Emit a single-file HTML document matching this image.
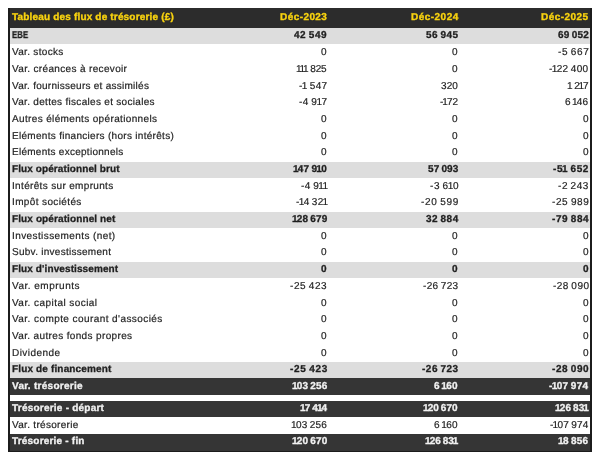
<!DOCTYPE html>
<html><head><meta charset="utf-8"><style>
*{margin:0;padding:0;box-sizing:border-box}
html,body{width:600px;height:459px;background:#fff;overflow:hidden}
body{position:relative;text-rendering:geometricPrecision;font-family:"Liberation Sans",sans-serif;font-size:10.0px;color:#1f1f1f}
.r{position:absolute;left:8px;width:584px}
.t{position:absolute;line-height:0;white-space:nowrap;-webkit-text-stroke:0.2px #1f1f1f}
.b{font-weight:bold;font-size:10.0px;-webkit-text-stroke:0.3px #1f1f1f}
.g{background:#dddddd}
.d{background:#353535}
.dt{color:#f2f2f2;-webkit-text-stroke:0.3px #f2f2f2}
.hd{position:absolute;left:8px;top:8px;width:584px;height:20px;background:#2c2c2c}
.ht{position:absolute;line-height:0;white-space:nowrap;color:#f9d30f;font-weight:bold;font-size:10.0px;-webkit-text-stroke:0.35px #f9d30f;top:18px}
.t,.ht{will-change:transform}
.sp{font-style:normal;margin-right:-0.8px}
.o{font-style:normal;margin-left:-1.0px;margin-right:-0.9px}
.bd{position:absolute;background:#1c1c1c}
</style></head><body>
<div class="hd"></div><span class="ht" style="left:11.80px;letter-spacing:0.174px">Tableau des flux de trésorerie (£)</span><span class="ht" style="right:272.572px;letter-spacing:0.428px">Déc-2023</span><span class="ht" style="right:141.527px;letter-spacing:0.473px">Déc-2024</span><span class="ht" style="right:11.050px;letter-spacing:0.450px">Déc-2025</span>
<div class="r g" style="top:28px;height:16px"></div><span class="t b gt" style="left:11.80px;top:36.000px;letter-spacing:0.000px;transform:scaleX(0.78);transform-origin:0 0">EBE</span><span class="t b gt" style="right:272.448px;top:36.000px;letter-spacing:0.552px">42<i class="sp"> </i>549</span><span class="t b gt" style="right:141.541px;top:36.000px;letter-spacing:0.459px">56<i class="sp"> </i>945</span><span class="t b gt" style="right:11.294px;top:36.000px;letter-spacing:0.206px">69<i class="sp"> </i>052</span><div class="r w" style="top:45px;height:16px"></div><span class="t  wt" style="left:11.80px;top:53.000px;letter-spacing:0.310px">Var. stocks</span><span class="t  wt" style="right:272.700px;top:53.000px;letter-spacing:0.300px">0</span><span class="t  wt" style="right:141.700px;top:53.000px;letter-spacing:0.300px">0</span><span class="t  wt" style="right:10.852px;top:53.000px;letter-spacing:0.648px">-5<i class="sp"> </i>667</span><div class="r w" style="top:61px;height:17px"></div><span class="t  wt" style="left:11.80px;top:70.000px;letter-spacing:0.341px">Var. créances à recevoir</span><span class="t  wt" style="right:273.150px;top:70.000px;letter-spacing:-0.150px"><i class="o">1</i><i class="o">1</i><i class="o">1</i> 825</span><span class="t  wt" style="right:141.700px;top:70.000px;letter-spacing:0.300px">0</span><span class="t  wt" style="right:11.175px;top:70.000px;letter-spacing:0.325px">-<i class="o">1</i>22<i class="sp"> </i>400</span><div class="r w" style="top:78px;height:17px"></div><span class="t  wt" style="left:11.80px;top:87.000px;letter-spacing:0.262px">Var. fournisseurs et assimilés</span><span class="t  wt" style="right:272.672px;top:87.000px;letter-spacing:0.328px">-<i class="o">1</i> 547</span><span class="t  wt" style="right:141.912px;top:87.000px;letter-spacing:0.088px">320</span><span class="t  wt" style="right:11.650px;top:87.000px;letter-spacing:-0.150px"><i class="o">1</i> 2<i class="o">1</i>7</span><div class="r w" style="top:95px;height:16px"></div><span class="t  wt" style="left:11.80px;top:103.000px;letter-spacing:0.300px">Var. dettes fiscales et sociales</span><span class="t  wt" style="right:272.512px;top:103.000px;letter-spacing:0.488px">-4<i class="sp"> </i>9<i class="o">1</i>7</span><span class="t  wt" style="right:141.988px;top:103.000px;letter-spacing:0.012px">-<i class="o">1</i>72</span><span class="t  wt" style="right:11.322px;top:103.000px;letter-spacing:0.178px">6<i class="sp"> </i><i class="o">1</i>46</span><div class="r w" style="top:111px;height:17px"></div><span class="t  wt" style="left:11.80px;top:120.000px;letter-spacing:0.354px">Autres éléments opérationnels</span><span class="t  wt" style="right:272.700px;top:120.000px;letter-spacing:0.300px">0</span><span class="t  wt" style="right:141.700px;top:120.000px;letter-spacing:0.300px">0</span><span class="t  wt" style="right:11.200px;top:120.000px;letter-spacing:0.300px">0</span><div class="r w" style="top:128px;height:17px"></div><span class="t  wt" style="left:11.80px;top:137.000px;letter-spacing:0.296px">Eléments financiers (hors intérêts)</span><span class="t  wt" style="right:272.700px;top:137.000px;letter-spacing:0.300px">0</span><span class="t  wt" style="right:141.700px;top:137.000px;letter-spacing:0.300px">0</span><span class="t  wt" style="right:11.200px;top:137.000px;letter-spacing:0.300px">0</span><div class="r w" style="top:145px;height:17px"></div><span class="t  wt" style="left:11.80px;top:153.000px;letter-spacing:0.266px">Eléments exceptionnels</span><span class="t  wt" style="right:272.700px;top:153.000px;letter-spacing:0.300px">0</span><span class="t  wt" style="right:141.700px;top:153.000px;letter-spacing:0.300px">0</span><span class="t  wt" style="right:11.200px;top:153.000px;letter-spacing:0.300px">0</span><div class="r g" style="top:162px;height:16px"></div><span class="t b gt" style="left:11.80px;top:170.000px;letter-spacing:0.092px">Flux opérationnel brut</span><span class="t b gt" style="right:272.821px;top:170.000px;letter-spacing:0.179px"><i class="o">1</i>47<i class="sp"> </i>9<i class="o">1</i>0</span><span class="t b gt" style="right:141.893px;top:170.000px;letter-spacing:0.107px">57<i class="sp"> </i>093</span><span class="t b gt" style="right:10.944px;top:170.000px;letter-spacing:0.556px">-5<i class="o">1</i> 652</span><div class="r w" style="top:178px;height:17px"></div><span class="t  wt" style="left:11.80px;top:187.000px;letter-spacing:0.337px">Intérêts sur emprunts</span><span class="t  wt" style="right:272.544px;top:187.000px;letter-spacing:0.456px">-4<i class="sp"> </i>9<i class="o">1</i><i class="o">1</i></span><span class="t  wt" style="right:141.448px;top:187.000px;letter-spacing:0.552px">-3<i class="sp"> </i>6<i class="o">1</i>0</span><span class="t  wt" style="right:10.948px;top:187.000px;letter-spacing:0.552px">-2<i class="sp"> </i>243</span><div class="r w" style="top:195px;height:17px"></div><span class="t  wt" style="left:11.80px;top:203.000px;letter-spacing:0.376px">Impôt sociétés</span><span class="t  wt" style="right:272.688px;top:203.000px;letter-spacing:0.312px">-<i class="o">1</i>4<i class="sp"> </i>32<i class="o">1</i></span><span class="t  wt" style="right:141.288px;top:203.000px;letter-spacing:0.712px">-20<i class="sp"> </i>599</span><span class="t  wt" style="right:10.895px;top:203.000px;letter-spacing:0.605px">-25<i class="sp"> </i>989</span><div class="r g" style="top:212px;height:16px"></div><span class="t b gt" style="left:11.80px;top:220.000px;letter-spacing:0.111px">Flux opérationnel net</span><span class="t b gt" style="right:272.874px;top:220.000px;letter-spacing:0.126px"><i class="o">1</i>28<i class="sp"> </i>679</span><span class="t b gt" style="right:141.522px;top:220.000px;letter-spacing:0.478px">32<i class="sp"> </i>884</span><span class="t b gt" style="right:10.917px;top:220.000px;letter-spacing:0.583px">-79<i class="sp"> </i>884</span><div class="r w" style="top:228px;height:17px"></div><span class="t  wt" style="left:11.80px;top:237.000px;letter-spacing:0.407px">Investissements (net)</span><span class="t  wt" style="right:272.700px;top:237.000px;letter-spacing:0.300px">0</span><span class="t  wt" style="right:141.700px;top:237.000px;letter-spacing:0.300px">0</span><span class="t  wt" style="right:11.200px;top:237.000px;letter-spacing:0.300px">0</span><div class="r w" style="top:245px;height:17px"></div><span class="t  wt" style="left:11.80px;top:253.000px;letter-spacing:0.272px">Subv. investissement</span><span class="t  wt" style="right:272.700px;top:253.000px;letter-spacing:0.300px">0</span><span class="t  wt" style="right:141.700px;top:253.000px;letter-spacing:0.300px">0</span><span class="t  wt" style="right:11.200px;top:253.000px;letter-spacing:0.300px">0</span><div class="r g" style="top:262px;height:16px"></div><span class="t b gt" style="left:11.80px;top:270.000px;letter-spacing:0.104px">Flux d'investissement</span><span class="t b gt" style="right:272.700px;top:270.000px;letter-spacing:0.300px">0</span><span class="t b gt" style="right:141.700px;top:270.000px;letter-spacing:0.300px">0</span><span class="t b gt" style="right:11.200px;top:270.000px;letter-spacing:0.300px">0</span><div class="r w" style="top:278px;height:17px"></div><span class="t  wt" style="left:11.80px;top:287.000px;letter-spacing:0.498px">Var. emprunts</span><span class="t  wt" style="right:272.421px;top:287.000px;letter-spacing:0.579px">-25<i class="sp"> </i>423</span><span class="t  wt" style="right:141.661px;top:287.000px;letter-spacing:0.340px">-26<i class="sp"> </i>723</span><span class="t  wt" style="right:11.027px;top:287.000px;letter-spacing:0.473px">-28<i class="sp"> </i>090</span><div class="r w" style="top:295px;height:17px"></div><span class="t  wt" style="left:11.80px;top:304.000px;letter-spacing:0.445px">Var. capital social</span><span class="t  wt" style="right:272.700px;top:304.000px;letter-spacing:0.300px">0</span><span class="t  wt" style="right:141.700px;top:304.000px;letter-spacing:0.300px">0</span><span class="t  wt" style="right:11.200px;top:304.000px;letter-spacing:0.300px">0</span><div class="r w" style="top:312px;height:16px"></div><span class="t  wt" style="left:11.80px;top:320.000px;letter-spacing:0.428px">Var. compte courant d'associés</span><span class="t  wt" style="right:272.700px;top:320.000px;letter-spacing:0.300px">0</span><span class="t  wt" style="right:141.700px;top:320.000px;letter-spacing:0.300px">0</span><span class="t  wt" style="right:11.200px;top:320.000px;letter-spacing:0.300px">0</span><div class="r w" style="top:328px;height:17px"></div><span class="t  wt" style="left:11.80px;top:337.000px;letter-spacing:0.355px">Var. autres fonds propres</span><span class="t  wt" style="right:272.700px;top:337.000px;letter-spacing:0.300px">0</span><span class="t  wt" style="right:141.700px;top:337.000px;letter-spacing:0.300px">0</span><span class="t  wt" style="right:11.200px;top:337.000px;letter-spacing:0.300px">0</span><div class="r w" style="top:345px;height:17px"></div><span class="t  wt" style="left:11.80px;top:354.000px;letter-spacing:0.445px">Dividende</span><span class="t  wt" style="right:272.700px;top:354.000px;letter-spacing:0.300px">0</span><span class="t  wt" style="right:141.700px;top:354.000px;letter-spacing:0.300px">0</span><span class="t  wt" style="right:11.200px;top:354.000px;letter-spacing:0.300px">0</span><div class="r g" style="top:362px;height:16px"></div><span class="t b gt" style="left:11.80px;top:370.000px;letter-spacing:0.148px">Flux de financement</span><span class="t b gt" style="right:272.310px;top:370.000px;letter-spacing:0.690px">-25<i class="sp"> </i>423</span><span class="t b gt" style="right:141.497px;top:370.000px;letter-spacing:0.503px">-26<i class="sp"> </i>723</span><span class="t b gt" style="right:10.917px;top:370.000px;letter-spacing:0.583px">-28<i class="sp"> </i>090</span><div class="r d" style="top:378px;height:17px"></div><span class="t b dt" style="left:11.80px;top:387.000px;letter-spacing:0.282px">Var. trésorerie</span><span class="t b dt" style="right:272.880px;top:387.000px;letter-spacing:0.120px"><i class="o">1</i>03<i class="sp"> </i>256</span><span class="t b dt" style="right:141.678px;top:387.000px;letter-spacing:0.322px">6<i class="sp"> </i><i class="o">1</i>60</span><span class="t b dt" style="right:11.164px;top:387.000px;letter-spacing:0.336px">-<i class="o">1</i>07<i class="sp"> </i>974</span><div class="r d" style="top:401px;height:16px"></div><span class="t b dt" style="left:11.80px;top:409.000px;letter-spacing:0.230px">Trésorerie - départ</span><span class="t b dt" style="right:272.968px;top:409.000px;letter-spacing:0.032px"><i class="o">1</i>7<i class="sp"> </i>4<i class="o">1</i>4</span><span class="t b dt" style="right:141.986px;top:409.000px;letter-spacing:0.014px"><i class="o">1</i>20<i class="sp"> </i>670</span><span class="t b dt" style="right:11.433px;top:409.000px;letter-spacing:0.067px"><i class="o">1</i>26<i class="sp"> </i>83<i class="o">1</i></span><div class="r w" style="top:417px;height:17px"></div><span class="t  wt" style="left:11.80px;top:426.000px;letter-spacing:0.302px">Var. trésorerie</span><span class="t  wt" style="right:272.791px;top:426.000px;letter-spacing:0.208px"><i class="o">1</i>03<i class="sp"> </i>256</span><span class="t  wt" style="right:141.702px;top:426.000px;letter-spacing:0.298px">6<i class="sp"> </i><i class="o">1</i>60</span><span class="t  wt" style="right:11.290px;top:426.000px;letter-spacing:0.210px">-<i class="o">1</i>07<i class="sp"> </i>974</span><div class="r d" style="top:434px;height:17px"></div><span class="t b dt" style="left:11.80px;top:442.000px;letter-spacing:0.200px">Trésorerie - fin</span><span class="t b dt" style="right:272.880px;top:442.000px;letter-spacing:0.120px"><i class="o">1</i>20<i class="sp"> </i>670</span><span class="t b dt" style="right:142.013px;top:442.000px;letter-spacing:-0.013px"><i class="o">1</i>26<i class="sp"> </i>83<i class="o">1</i></span><span class="t b dt" style="right:11.276px;top:442.000px;letter-spacing:0.224px"><i class="o">1</i>8<i class="sp"> </i>856</span>
<div class="bd" style="left:8px;top:8px;width:2px;height:444px"></div><div class="bd" style="left:590px;top:8px;width:2px;height:444px"></div><div class="bd" style="left:8px;top:451px;width:584px;height:1px"></div>
</body></html>
